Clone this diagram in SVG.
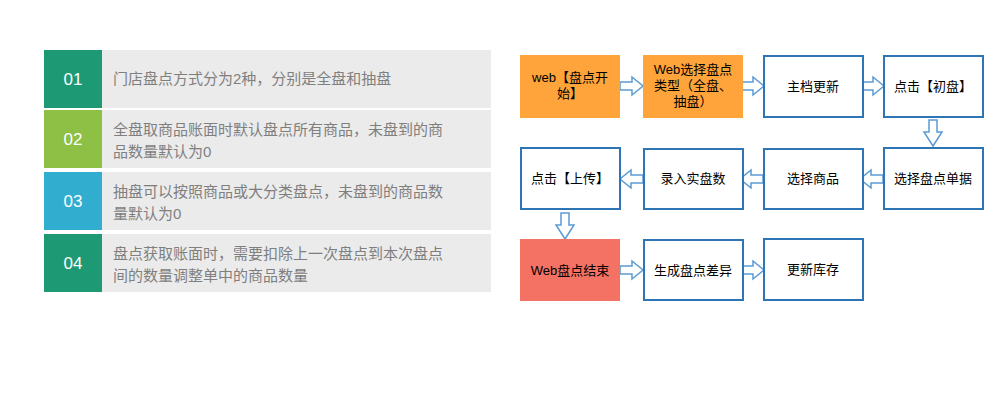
<svg xmlns="http://www.w3.org/2000/svg" width="1000" height="419" viewBox="0 0 1000 419">
<style>
.t{font-family:"Liberation Sans","Noto Sans CJK SC",sans-serif}
.n{font-size:17px;fill:#fff;text-anchor:middle}
.d{font-size:15px;fill:#7f7f7f}
.b{fill:#fff;stroke:#2e75b6;stroke-width:2}
.f{font-size:13px;fill:#000;text-anchor:middle}
.a{fill:#fff;stroke:#5b9bd5;stroke-width:1.5}
</style>
<defs>
<path id="ar" class="a" d="M0,-4 H12 V-9 L23,0 L12,9 V4 H0 Z"/>
<path id="dn" class="a" d="M-4,0 V12 H-9 L0,26 L9,12 H4 V0 Z"/>
</defs>
<rect width="1000" height="419" fill="#fff"/>
<g id="row1"><rect x="102" y="50" width="389" height="58" fill="#ebebeb"/><rect x="44" y="50" width="58" height="58" fill="#1d9a74"/><text class="t n" x="73" y="85">01</text><text class="t d" x="113" y="84">门店盘点方式分为2种，分别是全盘和抽盘</text></g>
<g id="row2"><rect x="102" y="110" width="389" height="58" fill="#ebebeb"/><rect x="44" y="110" width="58" height="58" fill="#8dc044"/><text class="t n" x="73" y="145">02</text><text class="t d" x="113" y="135">全盘取商品账面时默认盘点所有商品，未盘到的商</text><text class="t d" x="113" y="157">品数量默认为0</text></g>
<g id="row3"><rect x="102" y="172" width="389" height="58" fill="#ebebeb"/><rect x="44" y="172" width="58" height="58" fill="#31aecf"/><text class="t n" x="73" y="207">03</text><text class="t d" x="113" y="197">抽盘可以按照商品或大分类盘点，未盘到的商品数</text><text class="t d" x="113" y="219">量默认为0</text></g>
<g id="row4"><rect x="102" y="234" width="389" height="58" fill="#ebebeb"/><rect x="44" y="234" width="58" height="58" fill="#1d9a74"/><text class="t n" x="73" y="269">04</text><text class="t d" x="113" y="259">盘点获取账面时，需要扣除上一次盘点到本次盘点</text><text class="t d" x="113" y="281">间的数量调整单中的商品数量</text></g>
<g id="connectors">
<use href="#ar" x="620" y="86"/><use href="#ar" x="741" y="86"/><use href="#ar" x="861" y="86"/>
<use href="#dn" x="933" y="120"/>
<use href="#ar" transform="translate(883,179) scale(-1,1)"/>
<use href="#ar" transform="translate(763,179) scale(-1,1)"/>
<use href="#ar" transform="translate(643,179) scale(-1,1)"/>
<use href="#dn" x="565" y="213"/>
<use href="#ar" x="620" y="270"/><use href="#ar" x="741" y="270"/>
</g>
<g id="n1"><rect x="520" y="55" width="100" height="63" fill="#ffa43a"/><text class="t f" x="570" y="82">web【盘点开</text><text class="t f" x="570" y="98">始】</text></g>
<g id="n2"><rect x="643" y="55" width="100" height="63" fill="#ffa43a"/><text class="t f" x="693" y="74">Web选择盘点</text><text class="t f" x="693" y="90">类型（全盘、</text><text class="t f" x="693" y="106">抽盘）</text></g>
<g id="n3"><rect class="b" x="764" y="56" width="99" height="61"/><text class="t f" x="813" y="91">主档更新</text></g>
<g id="n4"><rect class="b" x="884" y="56" width="99" height="61"/><text class="t f" x="933" y="91">点击【初盘】</text></g>
<g id="n5"><rect class="b" x="884" y="148" width="99" height="61"/><text class="t f" x="933" y="183">选择盘点单据</text></g>
<g id="n6"><rect class="b" x="764" y="149" width="99" height="60"/><text class="t f" x="813" y="183">选择商品</text></g>
<g id="n7"><rect class="b" x="644" y="149" width="99" height="60"/><text class="t f" x="693" y="183">录入实盘数</text></g>
<g id="n8"><rect class="b" x="521" y="148" width="99" height="61"/><text class="t f" x="570" y="183">点击【上传】</text></g>
<g id="n9"><rect x="520" y="239" width="100" height="62" fill="#f37263"/><text class="t f" x="570" y="275">Web盘点结束</text></g>
<g id="n10"><rect class="b" x="644" y="240" width="99" height="60"/><text class="t f" x="693" y="275">生成盘点差异</text></g>
<g id="n11"><rect class="b" x="764" y="239" width="99" height="61"/><text class="t f" x="813" y="274">更新库存</text></g>
</svg>
